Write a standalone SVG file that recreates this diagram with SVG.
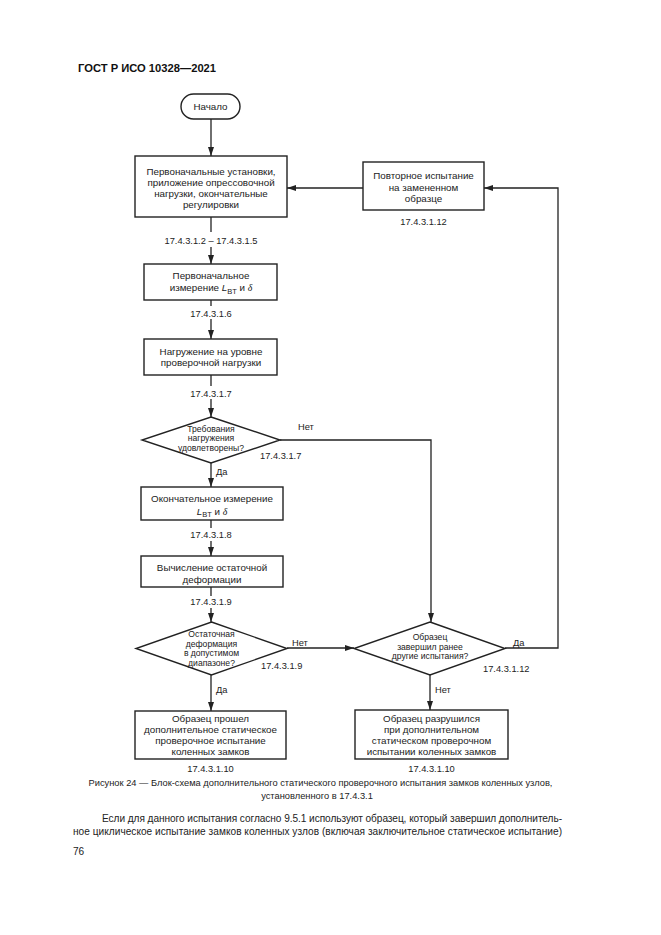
<svg xmlns="http://www.w3.org/2000/svg" width="661" height="935" viewBox="0 0 661 935">
<style>
.t{font-family:"Liberation Sans",Arial,sans-serif;font-size:9.8px;fill:#222;text-anchor:middle}
.d{font-family:"Liberation Sans",Arial,sans-serif;font-size:8.6px;fill:#222;text-anchor:middle}
.l{font-family:"Liberation Sans",Arial,sans-serif;font-size:9.3px;fill:#222;text-anchor:middle}
.la{font-family:"Liberation Sans",Arial,sans-serif;font-size:9.3px;fill:#222}
.p{font-family:"Liberation Sans",Arial,sans-serif;font-size:10.1px;fill:#222}
.h{font-family:"Liberation Sans",Arial,sans-serif;font-size:11.2px;font-weight:bold;fill:#111}
.b{fill:#fff;stroke:#222;stroke-width:1.4}
.c{fill:none;stroke:#222;stroke-width:1.3}
.it{font-style:italic}
.gr{font-family:"Liberation Serif",serif;font-style:italic}
</style>
<defs>
<marker id="ah" markerUnits="userSpaceOnUse" markerWidth="9" markerHeight="6" refX="9" refY="3" orient="auto">
<path d="M0,0 L9,3 L0,6 z" fill="#222"/>
</marker>
</defs>
<rect width="661" height="935" fill="#fff"/>
<text class="h" x="78" y="72">ГОСТ Р ИСО 10328—2021</text>

<g id="connectors">
<line class="c" x1="211" y1="119" x2="211" y2="156" marker-end="url(#ah)"/>
<line class="c" x1="211" y1="217" x2="211" y2="232"/>
<line class="c" x1="211" y1="247" x2="211" y2="264" marker-end="url(#ah)"/>
<line class="c" x1="211" y1="300" x2="211" y2="306"/>
<line class="c" x1="211" y1="319" x2="211" y2="339" marker-end="url(#ah)"/>
<line class="c" x1="211" y1="375" x2="211" y2="386"/>
<line class="c" x1="211" y1="399" x2="211" y2="417" marker-end="url(#ah)"/>
<line class="c" x1="211" y1="463" x2="211" y2="487" marker-end="url(#ah)"/>
<line class="c" x1="211" y1="520" x2="211" y2="528"/>
<line class="c" x1="211" y1="541" x2="211" y2="556" marker-end="url(#ah)"/>
<line class="c" x1="211" y1="587" x2="211" y2="596"/>
<line class="c" x1="211" y1="608" x2="211" y2="622" marker-end="url(#ah)"/>
<line class="c" x1="211" y1="675" x2="211" y2="711" marker-end="url(#ah)"/>
<polyline class="c" points="280,440 431,440 431,622" marker-end="url(#ah)"/>
<line class="c" x1="287" y1="648" x2="354" y2="648" marker-end="url(#ah)"/>
<polyline class="c" points="505,648 558,648 558,188 484,188" marker-end="url(#ah)"/>
<line class="c" x1="363" y1="188" x2="287" y2="188" marker-end="url(#ah)"/>
<line class="c" x1="430" y1="675" x2="430" y2="710" marker-end="url(#ah)"/>
</g>

<g id="start">
<rect class="b" x="181" y="94" width="59" height="25" rx="12.5"/>
<text class="t" x="210.5" y="110">Начало</text>
</g>

<g id="setup">
<rect class="b" x="135" y="156" width="152" height="61"/>
<text class="t" x="211" y="175">Первоначальные установки,</text>
<text class="t" x="211" y="186">приложение опрессовочной</text>
<text class="t" x="211" y="197">нагрузки, окончательные</text>
<text class="t" x="211" y="207.5">регулировки</text>
<text class="l" x="211" y="243.5">17.4.3.1.2 – 17.4.3.1.5</text>
</g>

<g id="retest">
<rect class="b" x="363" y="162" width="121" height="48"/>
<text class="t" x="423.5" y="179">Повторное испытание</text>
<text class="t" x="423.5" y="190.5">на замененном</text>
<text class="t" x="423.5" y="202">образце</text>
<text class="l" x="423.5" y="224.5">17.4.3.1.12</text>
</g>

<g id="initial-measure">
<rect class="b" x="144" y="264" width="133" height="36"/>
<text class="t" x="211" y="278.5">Первоначальное</text>
<text class="t" x="211" y="291">измерение <tspan class="it">L</tspan><tspan font-size="7.5" dy="2.5">BT</tspan><tspan dy="-2.5"> и </tspan><tspan class="gr">δ</tspan></text>
<text class="l" x="211" y="316.5">17.4.3.1.6</text>
</g>

<g id="loading">
<rect class="b" x="144" y="339" width="133" height="36"/>
<text class="t" x="211" y="354.5">Нагружение на уровне</text>
<text class="t" x="211" y="365.5">проверочной нагрузки</text>
<text class="l" x="211" y="396.5">17.4.3.1.7</text>
</g>

<g id="decision-load">
<polygon class="b" points="211,417 280,440 211,463 142,440"/>
<text class="d" x="211" y="432">Требования</text>
<text class="d" x="211" y="441">нагружения</text>
<text class="d" x="211" y="451">удовлетворены?</text>
<text class="la" x="260" y="458.5">17.4.3.1.7</text>
<text class="la" x="298" y="429.5">Нет</text>
<text class="la" x="216" y="474.5">Да</text>
</g>

<g id="final-measure">
<rect class="b" x="141" y="487" width="142" height="33"/>
<text class="t" x="212" y="501.5">Окончательное измерение</text>
<text class="t" x="212" y="514.5"><tspan class="it">L</tspan><tspan font-size="7.5" dy="2.5">BT</tspan><tspan dy="-2.5"> и </tspan><tspan class="gr">δ</tspan></text>
<text class="l" x="211" y="537.5">17.4.3.1.8</text>
</g>

<g id="calc">
<rect class="b" x="141" y="556" width="142" height="31"/>
<text class="t" x="212" y="571">Вычисление остаточной</text>
<text class="t" x="212" y="582.5">деформации</text>
<text class="l" x="211" y="605">17.4.3.1.9</text>
</g>

<g id="decision-deform">
<polygon class="b" points="211.5,622 287,648.5 211.5,675 136,648.5"/>
<text class="d" x="211.5" y="637">Остаточная</text>
<text class="d" x="211.5" y="646.5">деформация</text>
<text class="d" x="211.5" y="656">в допустимом</text>
<text class="d" x="211.5" y="665.5">диапазоне?</text>
<text class="la" x="261" y="668.5">17.4.3.1.9</text>
<text class="la" x="292" y="645.5">Нет</text>
<text class="la" x="216" y="692.5">Да</text>
</g>

<g id="decision-prior">
<polygon class="b" points="430,622 505,648.5 430,675 354,648.5"/>
<text class="d" x="430" y="640">Образец</text>
<text class="d" x="430" y="649.5">завершил ранее</text>
<text class="d" x="430" y="659">другие испытания?</text>
<text class="la" x="483" y="671.5">17.4.3.1.12</text>
<text class="la" x="513" y="645.5">Да</text>
<text class="la" x="435" y="692.5">Нет</text>
</g>

<g id="passed">
<rect class="b" x="135" y="711" width="151" height="48"/>
<text class="t" x="210.5" y="721.5">Образец прошел</text>
<text class="t" x="210.5" y="732.5">дополнительное статическое</text>
<text class="t" x="210.5" y="743.5">проверочное испытание</text>
<text class="t" x="210.5" y="754.5">коленных замков</text>
<text class="l" x="210.5" y="772">17.4.3.1.10</text>
</g>

<g id="failed">
<rect class="b" x="355" y="710" width="153" height="49"/>
<text class="t" x="431.5" y="721.5">Образец разрушился</text>
<text class="t" x="431.5" y="732.5">при дополнительном</text>
<text class="t" x="431.5" y="743.5">статическом проверочном</text>
<text class="t" x="431.5" y="754.5">испытании коленных замков</text>
<text class="l" x="431.5" y="772">17.4.3.1.10</text>
</g>

<text class="l" x="320.5" y="786">Рисунок 24 — Блок-схема дополнительного статического проверочного испытания замков коленных узлов,</text>
<text class="l" x="317" y="799">установленного в 17.4.3.1</text>
<text class="p" x="102" y="822" textLength="460" lengthAdjust="spacing">Если для данного испытания согласно 9.5.1 используют образец, который завершил дополнитель-</text>
<text class="p" x="73" y="835" textLength="489" lengthAdjust="spacing">ное циклическое испытание замков коленных узлов (включая заключительное статическое испытание)</text>
<text class="p" x="73" y="855">76</text>
</svg>
